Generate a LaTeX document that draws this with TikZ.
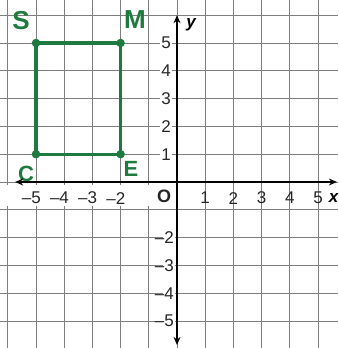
\documentclass[tikz,border=0pt]{standalone}
\usepackage{fontspec}
\newfontfamily\labfont{Liberation Sans}
\usetikzlibrary{arrows.meta}
\definecolor{gridc}{RGB}{125,125,125}
\definecolor{mk}{RGB}{30,122,62}
\begin{document}
\begin{tikzpicture}[x=28.2pt,y=27.8pt,
  gridline/.style={draw=gridc,line width=0.9pt},
  axisline/.style={line width=1.6pt,{Stealth[length=8pt,width=7pt]}-{Stealth[length=8pt,width=7pt]}},
  tick/.style={font=\labfont\fontsize{17}{17}\selectfont,inner sep=1pt,text=black!85},
  ylab/.style={tick,fill=white},
  axname/.style={font=\labfont\bfseries\itshape\fontsize{17}{17}\selectfont,inner sep=0pt},
  quadline/.style={draw=mk,line width=3.2pt,line join=round},
  vertex/.style={circle,fill=mk,inner sep=0pt,minimum size=8.5pt},
  hand/.style={font=\labfont\bfseries\fontsize{26}{26}\selectfont,text=mk,inner sep=0pt}]
\useasboundingbox (-177pt,-166pt) rectangle (161pt,182pt);
\fill[white] (-177pt,-166pt) rectangle (161pt,182pt);
% grid
\draw[gridline] (-177pt,-166pt) grid[xstep=28.2pt,ystep=27.8pt] (161pt,182pt);
% white band behind negative x labels
\fill[white] (-6.4,-0.12) rectangle (-0.06,-0.88);
% rectangle SMEC
\coordinate (ps) at (-5,5);
\coordinate (pm) at (-2,5);
\coordinate (pe) at (-2,1);
\coordinate (pc) at (-5,1);
\draw[quadline] (ps) -- (pm) -- (pe) -- (pc) -- cycle;
\node[vertex] (ds) at (ps) {};
\node[vertex] (dm) at (pm) {};
\node[vertex] (de) at (pe) {};
\node[vertex] (dc) at (pc) {};
\node[hand] (ls) at (-5.53,5.79) {S};
\node[hand] (lm) at (-1.49,5.83) {M};
\node[hand,font=\labfont\bfseries\fontsize{22}{22}\selectfont] (le) at (-1.63,0.48) {E};
\node[hand,font=\labfont\bfseries\fontsize{22}{22}\selectfont] (lc) at (-5.35,0.28) {C};
% axes
\coordinate (xl) at (-5.74,0);
\coordinate (xr) at (5.67,0);
\coordinate (yb) at (0,-5.86);
\coordinate (yt) at (0,6.0);
\draw[axisline] (xl) -- (xr);
\draw[axisline] (yb) -- (yt);
\node[axname] (nx) at (5.55,-0.58) {x};
\node[axname] (ny) at (0.50,5.65) {y};
\node[tick,font=\labfont\bfseries\fontsize{18}{18}\selectfont] (no) at (-0.46,-0.50) {O};
% x tick labels
\foreach \i in {1,...,5} {\node[tick] (xp\i) at (\i,-0.58) {\i};}
\foreach \i in {2,...,5} {\node[tick] (xn\i) at (-\i,-0.58) {\llap{–}\i};}
% y tick labels
\foreach \i in {1,...,5} {\node[ylab] (yp\i) at (-0.39,\i) {\i};}
\foreach \i in {2,...,5} {\node[ylab] (yn\i) at (-0.28,-\i) {\llap{–}\i};}
\end{tikzpicture}
\end{document}
